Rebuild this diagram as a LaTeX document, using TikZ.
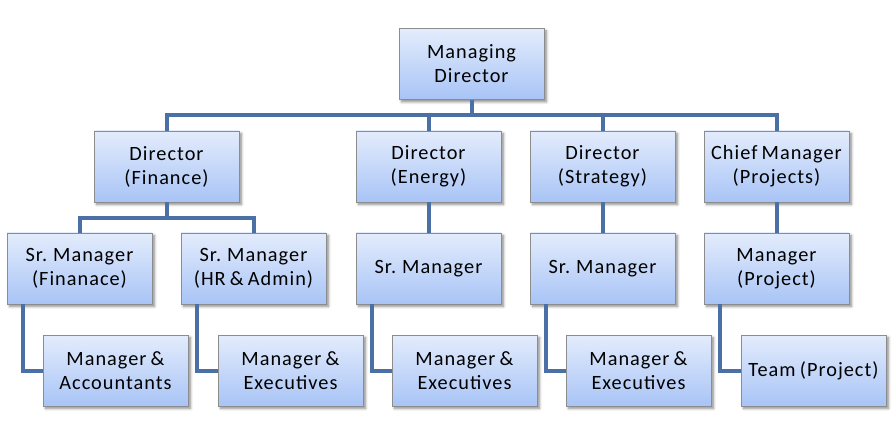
\documentclass[tikz,border=0pt]{standalone}
\usepackage{fontspec}
\setmainfont{Carlito}[LetterSpace=5,WordSpace=0.75]
\usetikzlibrary{shadows.blur}
\definecolor{boxtop}{HTML}{E3ECFC}
\definecolor{boxbot}{HTML}{A8C4F6}
\definecolor{boxedge}{HTML}{8C8C8C}
\definecolor{linkcol}{HTML}{4A70A6}
\tikzset{
  orgbox/.style={draw=boxedge, line width=0.8pt, top color=boxtop, bottom color=boxbot,
    minimum width=145pt, minimum height=71pt, inner sep=0pt, align=center,
    font=\fontsize{20.3}{24}\selectfont, text=black,
    blur shadow={shadow xshift=2.5pt, shadow yshift=-2.5pt, shadow blur radius=2.5pt, shadow blur steps=6, shadow opacity=45}},
  link/.style={draw=linkcol, line width=4pt}
}
\begin{document}
\begin{tikzpicture}[x=1pt,y=-1pt]
\useasboundingbox (0,0) rectangle (894,438);
% level 1
\node[orgbox] (MD) at (471.5,64) {Managing\\Director};
% level 2
\node[orgbox] (DF) at (166.5,166.5) {Director\\(Finance)};
\node[orgbox] (DE) at (428.5,166.5) {Director\\(Energy)};
\node[orgbox] (DS) at (602.5,166.5) {Director\\(Strategy)};
\node[orgbox] (CM) at (776.5,166.5) {Chief Manager\\(Projects)};
% level 3
\node[orgbox] (SA) at (79.5,268.5) {Sr. Manager\\(Finanace)};
\node[orgbox] (SB) at (253.5,268.5) {Sr. Manager\\(HR \& Admin)};
\node[orgbox] (SC) at (428.5,268.5) {Sr. Manager};
\node[orgbox] (SD) at (602.5,268.5) {Sr. Manager};
\node[orgbox] (SE) at (776.5,268.5) {Manager\\(Project)};
% level 4
\node[orgbox] (LA) at (115.5,370.5) {Manager \&\\Accountants};
\node[orgbox] (LB) at (290.5,370.5) {Manager \&\\Executives};
\node[orgbox] (LC) at (464.5,370.5) {Manager \&\\Executives};
\node[orgbox] (LD) at (638.5,370.5) {Manager \&\\Executives};
\node[orgbox] (LE) at (813.5,370.5) {Team (Project)};
% buses
\coordinate (bus) at (0,115);
\coordinate (fbus) at (0,218);
\draw[link] (DF.north) |- (CM.north |- bus) -- (CM.north);
\draw[link] (MD.south) -- (MD.south |- bus);
\draw[link] (DE.north) -- (DE.north |- bus);
\draw[link] (DS.north) -- (DS.north |- bus);
\draw[link] (SA.north) |- (SB.north |- fbus) -- (SB.north);
\draw[link] (DF.south) -- (DF.south |- fbus);
\draw[link] (DE.south) -- (SC.north);
\draw[link] (DS.south) -- (SD.north);
\draw[link] (CM.south) -- (SE.north);
% elbows
\foreach \s/\l in {SA/LA,SB/LB,SC/LC,SD/LD,SE/LE}{
  \draw[link] ([xshift=16pt]\s.south west) |- (\l.west);
}
\end{tikzpicture}
\end{document}
